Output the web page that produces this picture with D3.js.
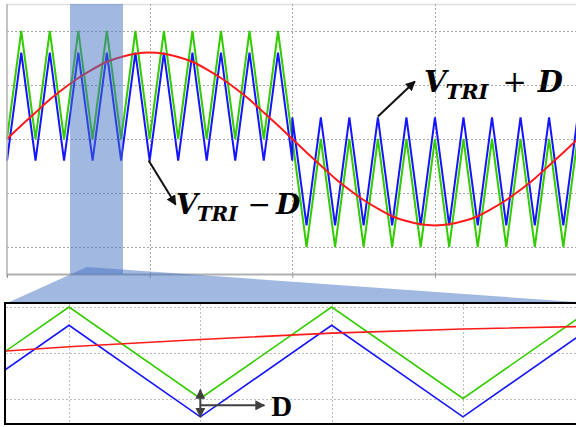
<!DOCTYPE html>
<html>
<head>
<meta charset="utf-8">
<script src="https://cdn.jsdelivr.net/npm/d3@7"></script>
<style>
  html, body { margin: 0; padding: 0; background: #fff; }
  svg { display: block; }
</style>
</head>
<body>
<svg id="chart" width="576" height="427"></svg>
<script>
// Carrier vertices (time in grid units); the jump at t = 2 is the polarity change.
const vertexT = [
  0, 0.1, 0.2, 0.3, 0.4, 0.5, 0.6, 0.7, 0.8, 0.9, 1.0,
  1.1, 1.2, 1.3, 1.4, 1.5, 1.6, 1.7, 1.8, 1.9, 2.0,
  2.0, 2.1, 2.2, 2.3, 2.4, 2.5, 2.6, 2.7, 2.8, 2.9, 3.0,
  3.1, 3.2, 3.3, 3.4, 3.5, 3.6, 3.7, 3.8, 3.9, 4.0
];
// V_TRI + D (green)
const upperCarrier = [
  0, 2, 0, 2, 0, 2, 0, 2, 0, 2, 0,
  2, 0, 2, 0, 2, 0, 2, 0, 2, 0,
  0, -2, 0, -2, 0, -2, 0, -2, 0, -2, 0,
  -2, 0, -2, 0, -2, 0, -2, 0, -2, 0
];
// V_TRI - D (blue)
const lowerCarrier = [
  -0.4, 1.6, -0.4, 1.6, -0.4, 1.6, -0.4, 1.6, -0.4, 1.6, -0.4,
  1.6, -0.4, 1.6, -0.4, 1.6, -0.4, 1.6, -0.4, 1.6, -0.4,
  0.4, -1.6, 0.4, -1.6, 0.4, -1.6, 0.4, -1.6, 0.4, -1.6, 0.4,
  -1.6, 0.4, -1.6, 0.4, -1.6, 0.4, -1.6, 0.4, -1.6, 0.4
];
// Reference (red), sampled every 0.1 units
const refT = [
  0, 0.1, 0.2, 0.3, 0.4, 0.5, 0.6, 0.7, 0.8, 0.9, 1.0,
  1.1, 1.2, 1.3, 1.4, 1.5, 1.6, 1.7, 1.8, 1.9, 2.0,
  2.1, 2.2, 2.3, 2.4, 2.5, 2.6, 2.7, 2.8, 2.9, 3.0,
  3.1, 3.2, 3.3, 3.4, 3.5, 3.6, 3.7, 3.8, 3.9, 4.0
];
const refV = [
  0, 0.25, 0.49, 0.73, 0.94, 1.13, 1.29, 1.43, 1.52, 1.58, 1.60,
  1.58, 1.52, 1.43, 1.29, 1.13, 0.94, 0.73, 0.49, 0.25, 0,
  -0.25, -0.49, -0.73, -0.94, -1.13, -1.29, -1.43, -1.52, -1.58, -1.60,
  -1.58, -1.52, -1.43, -1.29, -1.13, -0.94, -0.73, -0.49, -0.25, 0
];
const xGrid = [1, 2, 3, 4];
const yGrid = [-2, -1, 0, 1, 2];
const zoomXGrid = [0.4, 0.5, 0.6, 0.7, 0.8, 0.9];
const zoomYGrid = [0, 1, 2];
const zoomWindow = [0.442, 0.813];

const GREEN = "#33cc00", BLUE = "#1414ff", RED = "#ff1a1a";
const GRID = "#a6a6a6";

const svg = d3.select("#chart");

// ---------- main panel ----------
const x = d3.scaleLinear().domain([0, 4]).range([7, 577.6]);
const y = d3.scaleLinear().domain([-2.5, 2.5]).range([274, 4]);

const main = svg.append("g");

main.append("line")
  .attr("x1", x(0)).attr("x2", 576).attr("y1", y(2.5) + 0.5).attr("y2", y(2.5) + 0.5)
  .attr("stroke", "#e0e0e0").attr("stroke-width", 1.5);

main.append("g").selectAll("line").data(yGrid).join("line")
  .attr("x1", x(0)).attr("x2", x(4))
  .attr("y1", d => Math.round(y(d)) + 0.5).attr("y2", d => Math.round(y(d)) + 0.5)
  .attr("stroke", GRID).attr("stroke-dasharray", "2,2");

main.append("g").selectAll("line").data(xGrid).join("line")
  .attr("x1", d => Math.round(x(d)) + 0.5).attr("x2", d => Math.round(x(d)) + 0.5)
  .attr("y1", y(2.5)).attr("y2", y(-2.5))
  .attr("stroke", GRID).attr("stroke-dasharray", "2,2");

const carrierPts = (vals) => vertexT.map((t, i) => [t, vals[i]]);
const lineMain = d3.line().x(d => x(d[0])).y(d => y(d[1]));

main.append("path").datum(carrierPts(upperCarrier)).attr("d", lineMain)
  .attr("fill", "none").attr("stroke", GREEN).attr("stroke-width", 2);
main.append("path").datum(carrierPts(lowerCarrier)).attr("d", lineMain)
  .attr("fill", "none").attr("stroke", BLUE).attr("stroke-width", 2);
main.append("path").datum(refT.map((t, i) => [t, refV[i]]))
  .attr("d", lineMain.curve(d3.curveNatural))
  .attr("fill", "none").attr("stroke", RED).attr("stroke-width", 2);

// axes
main.append("line")
  .attr("x1", x(0)).attr("x2", x(0)).attr("y1", y(2.5)).attr("y2", y(-2.5) + 3)
  .attr("stroke", "#b0b0b0").attr("stroke-width", 1.5);
const xAxis = d3.axisBottom(x).tickValues([0, 1, 2, 3, 4]).tickSize(4).tickSizeOuter(0).tickFormat("");
main.append("g").attr("transform", `translate(0,${y(-2.5)})`).call(xAxis)
  .call(g => g.select(".domain").attr("stroke", "#b0b0b0").attr("stroke-width", 2))
  .call(g => g.selectAll(".tick line").attr("stroke", "#999").attr("stroke-width", 1));

// highlighted window and callout wedge
main.append("rect")
  .attr("x", x(zoomWindow[0])).attr("width", x(zoomWindow[1]) - x(zoomWindow[0]))
  .attr("y", y(2.5)).attr("height", y(-2.5) - y(2.5))
  .attr("fill", "#4472c4").attr("opacity", 0.5);
main.append("path")
  .attr("d", `M${x(0.56)},267 L576,302 L576,304 L5,304 Z`)
  .attr("fill", "#4472c4").attr("opacity", 0.5);

// annotations
const defs = svg.append("defs");
defs.append("marker").attr("id", "ah").attr("viewBox", "0 0 10 10")
  .attr("refX", 9).attr("refY", 5).attr("markerWidth", 5).attr("markerHeight", 5)
  .attr("orient", "auto").append("path").attr("d", "M0,0 L10,5 L0,10 z").attr("fill", "#111");

main.append("line")
  .attr("x1", x(1.0) - 1).attr("y1", y(-0.4))
  .attr("x2", x(1.0) + 26).attr("y2", y(-0.4) + 44)
  .attr("stroke", "#111").attr("stroke-width", 2).attr("marker-end", "url(#ah)");
main.append("line")
  .attr("x1", x(2.6)).attr("y1", y(0.4) - 1)
  .attr("x2", x(2.6) + 37).attr("y2", y(0.4) - 36)
  .attr("stroke", "#111").attr("stroke-width", 2).attr("marker-end", "url(#ah)");

function mathLabel(px, py, op, big, small, gapBefore, gapAfter) {
  const t = main.append("text").attr("x", px).attr("y", py)
    .attr("font-family", "'DejaVu Serif', serif").attr("font-weight", "bold")
    .attr("font-style", "italic").attr("fill", "#000");
  t.append("tspan").attr("font-size", big).text("V");
  t.append("tspan").attr("font-size", small).attr("dy", 7).attr("dx", -1).text("TRI");
  t.append("tspan").attr("font-size", big).attr("dy", -7).attr("font-style", "normal")
    .attr("font-weight", "normal").attr("dx", gapBefore).text(op);
  t.append("tspan").attr("font-size", big).attr("dx", gapAfter).text("D");
}
mathLabel(176, 214, "\u2212", 28, 20, 10, 5);
mathLabel(424, 92, "+", 29, 21, 14, 11);

// ---------- zoomed panel ----------
const xz = d3.scaleLinear().domain([0.5, 0.8]).range([69, 463]);
const yz = d3.scaleLinear().domain([0, 2]).range([398.5, 307]);
const zoom = svg.append("g");
defs.append("clipPath").attr("id", "zclip").append("rect")
  .attr("x", 6).attr("y", 304).attr("width", 580).attr("height", 119);

zoom.append("g").selectAll("line").data(zoomYGrid).join("line")
  .attr("x1", 6).attr("x2", 580)
  .attr("y1", d => Math.round(yz(d)) + 0.5).attr("y2", d => Math.round(yz(d)) + 0.5)
  .attr("stroke", "#bdbdbd").attr("stroke-dasharray", "2,2");
zoom.append("g").selectAll("line").data(zoomXGrid).join("line")
  .attr("x1", d => Math.round(xz(d)) + 0.5).attr("x2", d => Math.round(xz(d)) + 0.5)
  .attr("y1", 304).attr("y2", 423)
  .attr("stroke", "#bdbdbd").attr("stroke-dasharray", "2,2")
  .attr("clip-path", "url(#zclip)");

const lineZoom = d3.line().x(d => xz(d[0])).y(d => yz(d[1]));
const zc = zoom.append("g").attr("clip-path", "url(#zclip)");
zc.append("path").datum(carrierPts(upperCarrier)).attr("d", lineZoom)
  .attr("fill", "none").attr("stroke", GREEN).attr("stroke-width", 1.6);
zc.append("path").datum(carrierPts(lowerCarrier)).attr("d", lineZoom)
  .attr("fill", "none").attr("stroke", BLUE).attr("stroke-width", 1.6);
zc.append("path").datum(refT.map((t, i) => [t, refV[i]]))
  .attr("d", lineZoom.curve(d3.curveNatural))
  .attr("fill", "none").attr("stroke", RED).attr("stroke-width", 1.6);

zoom.append("rect").attr("x", 5).attr("y", 303).attr("width", 580).attr("height", 121)
  .attr("fill", "none").attr("stroke", "#000").attr("stroke-width", 2);

// offset marker D between the two carriers at a valley
defs.append("marker").attr("id", "ahg").attr("viewBox", "0 0 10 10")
  .attr("refX", 9).attr("refY", 5).attr("markerWidth", 5).attr("markerHeight", 5)
  .attr("orient", "auto-start-reverse").append("path").attr("d", "M0,0 L10,5 L0,10 z").attr("fill", "#404040");
zoom.append("line")
  .attr("x1", xz(0.6)).attr("x2", xz(0.6)).attr("y1", yz(0.19)).attr("y2", yz(-0.4))
  .attr("stroke", "#404040").attr("stroke-width", 2)
  .attr("marker-start", "url(#ahg)").attr("marker-end", "url(#ahg)");
zoom.append("line")
  .attr("x1", xz(0.6)).attr("x2", xz(0.6) + 64).attr("y1", yz(-0.15)).attr("y2", yz(-0.15))
  .attr("stroke", "#404040").attr("stroke-width", 2).attr("marker-end", "url(#ahg)");
zoom.append("text").attr("x", xz(0.6) + 71).attr("y", 416)
  .attr("font-family", "'Liberation Serif', serif").attr("font-weight", "bold")
  .attr("font-size", 29).attr("fill", "#000").text("D");
</script>
</body>
</html>
